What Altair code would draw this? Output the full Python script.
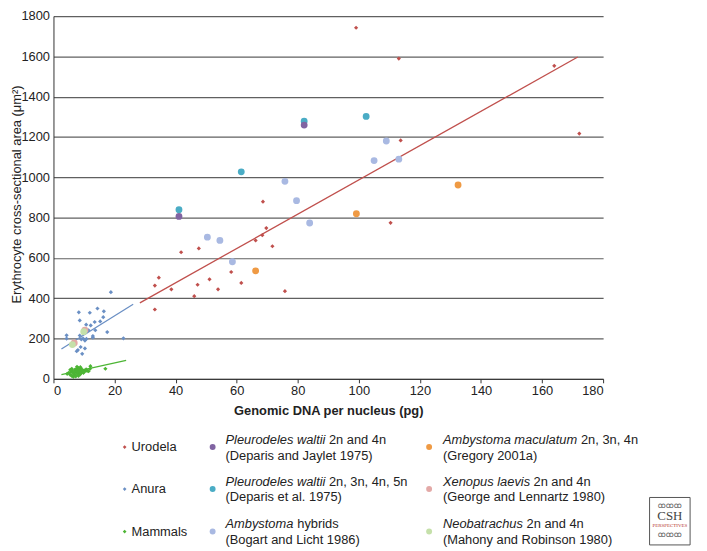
import altair as alt
import pandas as pd

# ---------------- data ----------------
urodela_x = [33.2, 34.5, 33.2, 38.6, 41.8, 47.6, 47.2, 46.1, 51.1, 53.9, 58.2, 61.5,
             66.2, 68.4, 69.7, 68.6, 71.7, 75.8, 110.4, 99.1, 113.1, 164.0, 113.7, 172.2]
urodela_y = [463, 502, 344, 444, 628, 647, 467, 410, 494, 444, 530, 476,
             687, 713, 748, 879, 658, 435, 774, 1742, 1589, 1553, 1183, 1217]

anura_x = [18.8, 8.3, 11.9, 14.4, 16.5, 8.6, 16.3, 13.5, 15.3, 10.7, 12.2, 13.7, 11.5, 9.8,
           17.6, 4.3, 4.3, 12.9, 12.9, 22.9, 9.7, 10.8, 10.3, 8.6, 9.1, 8.9, 8.0, 10.3, 9.4, 7.6]
anura_y = [430, 330, 328, 349, 335, 290, 306, 282, 285, 269, 265, 241, 241, 233,
           232, 216, 200, 212, 205, 201, 200, 198, 190, 215, 196, 158, 143, 151, 124, 137]

mammal_x = [4.5, 5.0, 5.5, 5.8, 6.0, 6.2, 6.5, 6.8, 7.0, 7.0, 7.2, 7.5, 7.5, 7.8, 8.0, 8.0,
            8.0, 8.2, 8.5, 8.5, 8.7, 9.0, 9.0, 9.0, 9.3, 9.5, 9.8, 10.0, 10.2, 10.7, 11.0,
            12.1, 6.5, 7.3, 5.5, 8.8, 7.7, 6.0, 9.9, 17.0, 12.0, 11.5]
mammal_y = [25, 30, 20, 35, 15, 40, 28, 22, 45, 33, 18, 50, 38, 26, 55, 42,
            30, 15, 48, 35, 22, 52, 40, 28, 45, 35, 30, 42, 36, 47, 40,
            63, 10, 12, 45, 58, 60, 50, 36, 50, 50, 38]

pw24_x = [41.1, 82.1]
pw24_y = [806, 1259]
pw2345_x = [41.1, 61.5, 82.1, 102.4]
pw2345_y = [839, 1027, 1278, 1302]
hybrid_x = [50.4, 54.5, 58.6, 79.6, 83.9, 75.8, 109.0, 105.0, 113.1]
hybrid_y = [703, 687, 581, 884, 773, 980, 1180, 1083, 1090]
macul_x = [66.2, 99.2, 132.5]
macul_y = [536, 819, 962]
xenopus_x = [6.8, 10.3]
xenopus_y = [178, 242]
neobat_x = [6.2, 9.9]
neobat_y = [170, 234]

# trend lines (end points)
fit_series = ["Urodela", "Urodela", "Anura", "Anura", "Mammals", "Mammals"]
fit_x = [28.3, 171.7, 2.6, 26.1, 2.6, 23.8]
fit_y = [377, 1597, 148, 370, 21, 92]

series_names = ["Urodela", "Anura", "Mammals", "PW24", "PW2345", "Hybrid", "Maculatum",
                "Xenopus", "Neobatrachus"]
series_colors = ["#c0504d", "#6a8fc4", "#4db535", "#8064a2", "#4aacc5", "#a9b9e2",
                 "#ef9a44", "#e3a9a7", "#c5e0aa"]

x_ticks = list(range(0, 181, 20))
y_ticks = list(range(0, 1801, 200))

# legend texts
legend_col1 = ["Urodela", "Anura", "Mammals"]
legend_col2_it = ["Pleurodeles waltii", "Pleurodeles waltii", "Ambystoma"]
legend_col2_rest = ["2n and 4n", "2n, 3n, 4n, 5n", "hybrids"]
legend_col2_ref = ["(Deparis and Jaylet 1975)", "(Deparis et al. 1975)", "(Bogart and  Licht 1986)"]
legend_col3_it = ["Ambystoma maculatum", "Xenopus laevis", "Neobatrachus"]
legend_col3_rest = ["2n, 3n, 4n", "2n and 4n", "2n and 4n"]
legend_col3_ref = ["(Gregory 2001a)", "(George and  Lennartz 1980)", "(Mahony and Robinson 1980)"]

# ---------------- build frames ----------------
def frame(name, xs, ys):
    return pd.DataFrame({"x": xs, "y": ys, "series": name})

diamonds = pd.concat([frame("Urodela", urodela_x, urodela_y),
                      frame("Anura", anura_x, anura_y),
                      frame("Mammals", mammal_x, mammal_y)], ignore_index=True)
circles = pd.concat([frame("PW2345", pw2345_x, pw2345_y),
                     frame("PW24", pw24_x, pw24_y),
                     frame("Hybrid", hybrid_x, hybrid_y),
                     frame("Maculatum", macul_x, macul_y),
                     frame("Xenopus", xenopus_x, xenopus_y),
                     frame("Neobatrachus", neobat_x, neobat_y)], ignore_index=True)
fits = pd.DataFrame({"x": fit_x, "y": fit_y, "series": fit_series})

FONT = "Liberation Sans"
W, H = 556, 367

xs = alt.Scale(domain=[0, 180], nice=False, zero=False)
ys = alt.Scale(domain=[0, 1800], nice=False)
cs = alt.Scale(domain=series_names, range=series_colors)

X = alt.X("x:Q", scale=xs, axis=alt.Axis(
    values=x_ticks, format="d", title="Genomic DNA per nucleus (pg)", grid=False, ticks=True,
    tickSize=4, labelPadding=2, titleFontWeight="bold", titleBaseline="middle",
    titleY=32, titleX=W / 2, titleAlign="center"))
Y = alt.Y("y:Q", scale=ys, axis=alt.Axis(
    values=y_ticks, format="d", title="Erythrocyte cross-sectional area (μm²)", grid=True,
    ticks=False, labelPadding=4, titleFontWeight="normal", titleBaseline="middle",
    titleX=-37, titleY=180, titleAlign="center", titleAngle=-90))
C = alt.Color("series:N", scale=cs, legend=None)

diamond_layer = alt.Chart(diamonds).mark_point(
    shape="diamond", filled=True, size=18, opacity=1).encode(x=X, y=Y, color=C)
line_layer = alt.Chart(fits).mark_line(strokeWidth=1.3).encode(
    x=X, y=Y, color=C, detail="series:N")
circle_layer = alt.Chart(circles).mark_circle(size=48, opacity=1).encode(x=X, y=Y, color=C)

layers = [diamond_layer, line_layer, circle_layer]

# ---------------- legend (manual, three columns) ----------------
row_marker_y = [436, 478.5, 521.5]
row_line1_y = [428.7, 471.3, 514.3]
row_line2_y = [444.7, 487, 529.7]
col1_marker_x, col1_text_x = 72, 79
col2_marker_x, col2_text_x = 161, 174
col3_marker_x, col3_text_x = 380, 394
# approx italic widths at 13px (for placing the roman continuation)
col2_it_w = [101, 101, 69]
col3_it_w = [136, 88, 81]
space_w = 3.6
one = pd.DataFrame({"a": [0]})


def txt(s, x, y, italic=False, size=13, color="#222", font=FONT, weight="normal"):
    return alt.Chart(one).mark_text(
        text=s, align="left", baseline="middle", font=font, fontSize=size,
        fontStyle="italic" if italic else "normal", color=color, fontWeight=weight
    ).encode(x=alt.value(x), y=alt.value(y))


def marker(x, y, color, shape, size):
    return alt.Chart(one).mark_point(
        shape=shape, filled=True, size=size, color=color, opacity=1
    ).encode(x=alt.value(x), y=alt.value(y))


col_colors = dict(zip(series_names, series_colors))
col1_keys = ["Urodela", "Anura", "Mammals"]
col2_keys = ["PW24", "PW2345", "Hybrid"]
col3_keys = ["Maculatum", "Xenopus", "Neobatrachus"]
for i in range(3):
    layers.append(marker(col1_marker_x, row_marker_y[i], col_colors[col1_keys[i]], "diamond", 14))
    layers.append(txt(legend_col1[i], col1_text_x, row_marker_y[i]))
    layers.append(marker(col2_marker_x, row_marker_y[i], col_colors[col2_keys[i]], "circle", 36))
    layers.append(txt(legend_col2_it[i], col2_text_x, row_line1_y[i], italic=True))
    layers.append(txt(legend_col2_rest[i], col2_text_x + col2_it_w[i] + space_w, row_line1_y[i]))
    layers.append(txt(legend_col2_ref[i], col2_text_x, row_line2_y[i]))
    layers.append(marker(col3_marker_x, row_marker_y[i], col_colors[col3_keys[i]], "circle", 36))
    layers.append(txt(legend_col3_it[i], col3_text_x, row_line1_y[i], italic=True))
    layers.append(txt(legend_col3_rest[i], col3_text_x + col3_it_w[i] + space_w, row_line1_y[i]))
    layers.append(txt(legend_col3_ref[i], col3_text_x, row_line2_y[i]))

# ---------------- logo box ----------------
LX0, LX1, LY0, LY1 = 603, 644, 487, 535
LXC = (LX0 + LX1) / 2
logo = alt.Chart(one).mark_rect(fill="white", stroke="#555", strokeWidth=1).encode(
    x=alt.value(LX0), x2=alt.value(LX1), y=alt.value(LY0), y2=alt.value(LY1))
layers.append(logo)
layers.append(alt.Chart(one).mark_text(text="CSH", font="Liberation Serif", fontSize=13,
                                        color="#444", align="center", baseline="middle")
              .encode(x=alt.value(LXC), y=alt.value(506)))
layers.append(alt.Chart(one).mark_text(text="PERSPECTIVES", font="Liberation Serif", fontSize=5,
                                        color="#b5332e", align="center", baseline="middle")
              .encode(x=alt.value(LXC), y=alt.value(515)))
for hy in (496, 525):
    layers.append(alt.Chart(one).mark_text(text="ꝏꝏꝏ", font="DejaVu Sans", fontSize=8,
                                            color="#666", align="center", baseline="middle")
                  .encode(x=alt.value(LXC), y=alt.value(hy)))

chart = alt.layer(*layers).properties(
    width=W, height=H,
    autosize=alt.AutoSizeParams(type="none"),
    padding={"left": 46, "top": 5, "right": 97, "bottom": 171},
).configure_axis(
    labelFont=FONT, titleFont=FONT, labelFontSize=13, titleFontSize=13,
    labelColor="#222", titleColor="#222", domainColor="#333", gridColor="#606060",
    tickColor="#333", domainWidth=1, gridWidth=1.2,
).configure_view(strokeWidth=0)

chart.save("out.html", embed_options={"renderer": "svg", "actions": False})
